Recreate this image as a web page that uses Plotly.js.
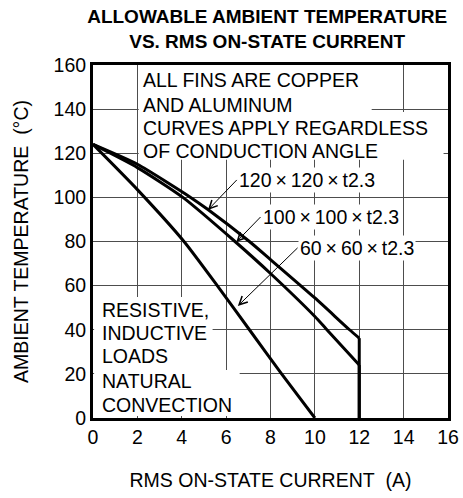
<!DOCTYPE html>
<html>
<head>
<meta charset="utf-8">
<script src="https://cdn.plot.ly/plotly-3.0.1.min.js"></script>
<style>html,body{margin:0;padding:0;background:#fff;}#chart{width:463px;height:498px;}</style>
</head>
<body>
<div id="chart"></div>
<script>
// ---- data ----
const seriesNames = ["120×120×t2.3", "100×100×t2.3", "60×60×t2.3"];
const x120 = [0, 2, 4.4, 5.18, 7.05, 8, 10, 11.56, 12, 12];
const y120 = [124, 115, 100, 94.5, 80, 71.8, 54.4, 40, 36.2, 0];
const x100 = [0, 2, 4.05, 6.4, 8, 10, 10.5, 12, 12];
const y100 = [124, 113.5, 100, 80, 65.5, 46, 40.5, 24, 0];
const x60 = [0, 2, 4.1, 5.6, 7.05, 8.5, 10];
const y60 = [124, 103.5, 80, 60, 40, 20, 0];
const xTicks = [0, 2, 4, 6, 8, 10, 12, 14, 16];
const yTicks = [0, 20, 40, 60, 80, 100, 120, 140, 160];
const noteTop = ["ALL FINS ARE COPPER", "AND ALUMINUM", "CURVES APPLY REGARDLESS", "OF CONDUCTION ANGLE"];
const noteBottom = ["RESISTIVE,", "INDUCTIVE", "LOADS", "NATURAL", "CONVECTION"];

const FONT = "Liberation Sans, Arial, sans-serif";
const FS = 19.5;
const line = {color: "#000", width: 3};
const curveLine = {color: "#000", width: 3, shape: "spline", smoothing: 0.6};

// each series: smooth curve part, then the straight vertical drop (last two points)
function seriesTraces(xs, ys, name, hasDrop) {
  const n = hasDrop ? xs.length - 1 : xs.length;
  const out = [{x: xs.slice(0, n), y: ys.slice(0, n), name: name, mode: "lines", line: curveLine, hoverinfo: "skip"}];
  if (hasDrop) out.push({x: xs.slice(n - 1), y: ys.slice(n - 1), name: name, mode: "lines", line: line, hoverinfo: "skip"});
  return out;
}
const traces = [].concat(
  seriesTraces(x120, y120, seriesNames[0], true),
  seriesTraces(x100, y100, seriesNames[1], true),
  seriesTraces(x60, y60, seriesNames[2], false)
);

// text rows positions (data units)
const topRowY = [153, 142, 131.5, 121];
const botRowY = [49.1, 38.5, 28.0, 16.9, 6.0];
const annotations = [];
noteTop.forEach((t, i) => annotations.push({
  x: 2.17, y: topRowY[i], xref: "x", yref: "y", text: t, showarrow: false,
  xanchor: "left", yanchor: "middle", font: {family: FONT, size: FS, color: "#000"}
}));
noteBottom.forEach((t, i) => annotations.push({
  x: 0.33, y: botRowY[i], xref: "x", yref: "y", text: t, showarrow: false,
  xanchor: "left", yanchor: "middle", font: {family: FONT, size: FS, color: "#000"}
}));
const labelText = s => s.replace(/×/g, "\u2009×\u2009");
const arrows = [
  {tip: [5.18, 94.3], tail: [6.48, 107.9]},
  {tip: [6.46, 79.8], tail: [7.55, 91.1]},
  {tip: [6.53, 50.8], tail: [9.22, 77.1]}
];
seriesNames.forEach((s, i) => annotations.push({
  x: arrows[i].tip[0], y: arrows[i].tip[1], xref: "x", yref: "y",
  ax: arrows[i].tail[0], ay: arrows[i].tail[1], axref: "x", ayref: "y",
  text: labelText(s), showarrow: true, arrowhead: 5, arrowsize: 1.6, arrowwidth: 1,
  arrowcolor: "#000", xanchor: "left", yanchor: "middle", bgcolor: "#fff", borderpad: 1,
  font: {family: FONT, size: FS, color: "#000"}
}));

// white boxes behind notes (hide grid like the reference)
const box = (x0, x1, y0, y1) => ({type: "rect", xref: "x", yref: "y", x0, x1, y0, y1,
  fillcolor: "#fff", line: {width: 0}, layer: "between"});
const shapes = [
  box(2.06, 12.56, 136.4, 160),
  box(2.06, 15.8, 117, 138.7),
  box(0.05, 5.39, 21.8, 54.9),
  box(0.05, 6.61, 0.9, 21.8)
];

const axisCommon = {
  showgrid: true, gridcolor: "#4d4d4d", gridwidth: 1, zeroline: false,
  showline: true, linecolor: "#000", linewidth: 3, mirror: true, ticks: "",
  tickfont: {family: FONT, size: FS, color: "#000"}, fixedrange: true
};

const layout = {
  width: 463, height: 498,
  margin: {l: 93, r: 15, t: 65, b: 80},
  paper_bgcolor: "#fff", plot_bgcolor: "#fff",
  showlegend: false,
  title: {
    text: "<b>ALLOWABLE AMBIENT TEMPERATURE<br>VS. RMS ON-STATE CURRENT</b>",
    font: {family: FONT, size: 19, color: "#000"},
    x: 0.577, xref: "container", xanchor: "center",
    y: 0.953, yref: "container", yanchor: "top"
  },
  xaxis: Object.assign({}, axisCommon, {
    range: [0, 16], tickvals: xTicks, ticktext: xTicks.map(String),
    title: {text: "RMS ON-STATE CURRENT\u00a0\u00a0(A)", font: {family: FONT, size: FS, color: "#000"}, standoff: 26}
  }),
  yaxis: Object.assign({}, axisCommon, {
    range: [0, 160], tickvals: yTicks, ticktext: yTicks.map(String),
    title: {text: "AMBIENT TEMPERATURE\u00a0\u00a0(°C)", font: {family: FONT, size: FS, color: "#000"}, standoff: 20}
  }),
  annotations: annotations,
  shapes: shapes
};

Plotly.newPlot("chart", traces, layout, {displayModeBar: false, staticPlot: true});
</script>
</body>
</html>
